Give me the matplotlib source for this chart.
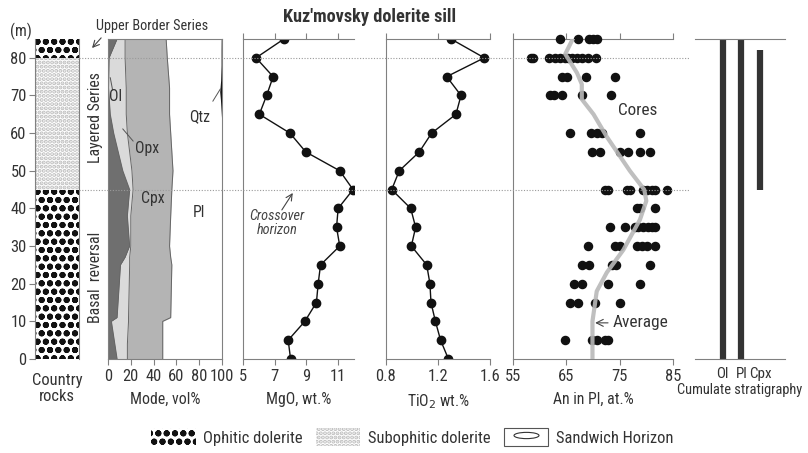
import numpy as np
import matplotlib.pyplot as plt
from matplotlib import font_manager
from matplotlib.patches import Patch
from matplotlib.lines import Line2D
from matplotlib.path import Path
from matplotlib.markers import MarkerStyle
from matplotlib.legend_handler import HandlerTuple
from matplotlib.transforms import blended_transform_factory

# pick a narrow sans if one is around, otherwise plain Liberation Sans
have = {f.name for f in font_manager.fontManager.ttflist}
narrow = [n for n in ('Liberation Sans Narrow', 'Roboto Condensed', 'Open Sans Condensed')
          if n in have]
plt.rcParams['font.family'] = narrow[:1] + ['Liberation Sans', 'DejaVu Sans']
sc = 1.08 if narrow else 1.0

plt.rcParams['font.size'] = 10.5 * sc
plt.rcParams['text.color'] = '#333333'
plt.rcParams['axes.labelcolor'] = '#333333'
plt.rcParams['axes.edgecolor'] = '#808080'
plt.rcParams['xtick.color'] = '#808080'
plt.rcParams['ytick.color'] = '#808080'
plt.rcParams['xtick.labelcolor'] = '#333333'
plt.rcParams['ytick.labelcolor'] = '#333333'
plt.rcParams['xtick.labelsize'] = 11 * sc
plt.rcParams['ytick.labelsize'] = 11 * sc
plt.rcParams['hatch.linewidth'] = 2.0

# ---- data (height in m above the base of the sill) ----
depth = [0, 5, 10, 15, 20, 25, 30, 35, 40, 45, 50, 55, 60, 65, 70, 75, 80, 85]
mgo = [8.0, 7.85, 8.9, 9.63, 9.74, 9.89, 11.1, 10.9, 11.0, 11.94,
       11.1, 8.96, 7.96, 6.03, 6.49, 6.9, 5.82, 7.58]
tio2 = [1.28, 1.22, 1.18, 1.146, 1.138, 1.113, 0.995, 1.028, 0.99, 0.844,
        0.902, 1.056, 1.151, 1.338, 1.377, 1.267, 1.556, 1.30]

an_depth = [5, 15, 20, 25, 30, 35, 40, 45, 55, 60, 70, 75, 80, 85]
an_values = [
    [64.8, 69.8, 70.7, 72.3, 72.9],
    [65.6, 67.1, 70.4, 75.1],
    [66.4, 67.9, 72.9, 78.8],
    [67.9, 69.3, 73.5, 74.4, 80.6],
    [69.1, 74.1, 75.1, 78.2, 79.1, 80.1, 81.6],
    [73.2, 76.0, 77.9, 78.5, 79.4, 80.4, 81.0, 81.6],
    [78.2, 78.8, 81.6],
    [72.3, 72.9, 76.3, 76.9, 79.3, 80.1, 81.0, 81.6, 83.8],
    [69.8, 71.3, 75.1, 76.6, 78.8, 80.6],
    [65.6, 69.6, 70.7, 71.6, 78.8],
    [61.9, 62.6, 64.1, 67.9, 73.3],
    [64.1, 65.1, 68.7, 74.1],
    [58.3, 58.8, 61.8, 62.9, 63.8, 64.8, 65.4, 66.1, 67.0, 68.0, 69.0, 70.6],
    [63.8, 67.1, 69.2, 70.0, 70.7],
]
avg_depth = [0, 10, 18, 23, 29, 37, 42, 45, 50, 59, 65, 69, 73, 76, 81, 85]
avg_an = [69.9, 69.9, 70.7, 72.6, 75.7, 78.8, 80.0, 79.6, 76.9, 72.6,
          70.1, 67.9, 67.9, 67.0, 64.8, 66.2]

# modal composition, cumulative vol% boundaries
mode_depth = [0, 4, 10, 11, 25, 27, 30, 38, 45, 50, 55, 60, 65, 72, 80, 85]
mode_ol = [8, 6, 3, 8, 11, 15, 19, 17, 19, 13, 9, 5, 2, 0.5, 1, 8]
mode_opx = [17, 17, 18, 18, 19, 19, 20, 20, 22, 21, 19, 17, 16, 16, 15, 15]
mode_cpx = [48, 48, 48, 55, 56, 55, 54, 55, 56, 57, 56, 55, 54, 54, 52, 51]
qtz_depth = [62, 66, 69, 71, 74, 78, 82, 85]
qtz_left = [100, 99.2, 98.6, 98.0, 98.8, 99.2, 99.2, 99.3]

layer_base = [0, 45, 80]
layer_top = [45, 80, 85]
layer_rock = ['Ophitic dolerite', 'Subophitic dolerite', 'Ophitic dolerite']
rock_hatch = {'Ophitic dolerite': 'oo', 'Subophitic dolerite': '....'}
rock_color = {'Ophitic dolerite': '#111111', 'Subophitic dolerite': '#bcbcbc'}

phases = ['Ol', 'Pl', 'Cpx']
phase_base = [0, 0, 45]
phase_top = [85, 85, 82]

W, H = 808, 453
fig = plt.figure(figsize=(W / 100, H / 100), dpi=100)

y0 = 1 - 359 / H
hh = 320 / H


def panel(x0, x1):
    return fig.add_axes([x0 / W, y0, (x1 - x0) / W, hh])


# ---- country rocks column ----
ax0 = panel(35, 79)
ax0.set_xlim(0, 1)
ax0.set_ylim(0, 85)
for b, t, r in zip(layer_base, layer_top, layer_rock):
    ax0.axhspan(b, t, facecolor='white', edgecolor=rock_color[r],
                hatch=rock_hatch[r], linewidth=0)
ax0.spines[['top', 'bottom']].set_visible(False)
ax0.set_xticks([])
ax0.set_yticks(range(0, 81, 10))
ax0.tick_params(axis='y', length=4, pad=2)
ax0.text(0.5, -0.045, 'Country\nrocks', transform=ax0.transAxes,
         ha='center', va='top', linespacing=1.05, fontsize=11 * sc)
ax0.text(-0.31, 86.9, '(m)', ha='center', va='center',
         transform=blended_transform_factory(ax0.transAxes, ax0.transData))

# ---- modal composition ----
ax1 = panel(108, 222)
ax1.set_xlim(0, 100)
ax1.set_ylim(0, 85)
ax1.fill_betweenx(mode_depth, 0, mode_ol, color='#6f6f6f', lw=0)
ax1.fill_betweenx(mode_depth, mode_ol, mode_opx, color='#dadada', lw=0)
ax1.fill_betweenx(mode_depth, mode_opx, mode_cpx, color='#b4b4b4', lw=0)
ax1.fill_betweenx(qtz_depth, qtz_left, 100, color='#111111', lw=0)
for bnd in (mode_ol, mode_opx, mode_cpx):
    ax1.plot(bnd, mode_depth, color='#666666', lw=0.7)
ax1.set_xticks(range(0, 101, 20))
ax1.set_yticks([])
ax1.tick_params(axis='x', length=4, pad=3)
ax1.set_xlabel('Mode, vol%', labelpad=6)
ax1.text(7, 69.8, 'Ol', ha='center', va='center')
ax1.plot([2, 4], [74.7, 71.5], color='#555555', lw=0.7)
ax1.text(34, 56, 'Opx', ha='center', va='center')
ax1.plot([13, 22], [61.1, 57.9], color='#555555', lw=0.7)
ax1.text(80.7, 64.3, 'Qtz', ha='center', va='center')
ax1.plot([92, 98.5], [68.5, 71.7], color='#555555', lw=0.7)
ax1.text(39.5, 42.6, 'Cpx', ha='center', va='center')
ax1.text(80, 38.9, 'Pl', ha='center', va='center')
ax1.text(-11.4, 64, 'Layered Series', rotation=90, ha='center', va='center')
ax1.text(-11.4, 21.7, 'Basal  reversal', rotation=90, ha='center', va='center')
ax1.text(38.6, 88.5, 'Upper Border Series', ha='center', va='center',
         fontsize=9.5 * sc, clip_on=False)
ax1.annotate('', xy=(-14, 82.6), xytext=(-6, 85.3), annotation_clip=False,
             arrowprops=dict(arrowstyle='->', color='#444444', lw=0.8,
                             shrinkA=0, shrinkB=0))

# ---- MgO ----
ax2 = panel(243, 354)
ax2.plot(mgo, depth, '-o', color='#111111', ms=6, lw=1)
ax2.set_xlim(5, 12)
ax2.set_xticks([5, 7, 9, 11])
ax2.set_xlabel('MgO, wt.%', labelpad=6)
ax2.annotate('', xy=(8.14, 44.1), xytext=(7.45, 39.6),
             arrowprops=dict(arrowstyle='->', color='#444444', lw=0.8,
                             shrinkA=0, shrinkB=0))
ax2.text(7.14, 36.1, 'Crossover\nhorizon', ha='center', va='center',
         style='italic', fontsize=9.5 * sc, color='#444444', linespacing=1.0)

# ---- TiO2 ----
ax3 = panel(386, 490)
ax3.plot(tio2, depth, '-o', color='#111111', ms=6, lw=1)
ax3.set_xlim(0.8, 1.6)
ax3.set_xticks([0.8, 1.2, 1.6])
ax3.set_xlabel('TiO$_2$ wt.%', labelpad=6)

# ---- An in plagioclase ----
ax4 = panel(513, 673)
for d, vals in zip(an_depth, an_values):
    ax4.scatter(vals, [d] * len(vals), s=34, color='#111111', zorder=3,
                clip_on=False)
ax4.plot(avg_an, avg_depth, color='#b8b8b8', lw=3, alpha=0.9, zorder=4)
ax4.set_xlim(55, 85)
ax4.set_xticks([55, 65, 75, 85])
ax4.set_xlabel('An in Pl, at.%', labelpad=6)
ax4.text(78.3, 65.9, 'Cores', ha='center', va='center', fontsize=11.5 * sc)
ax4.annotate('Average', xy=(70.4, 9.6), xytext=(73.6, 9.6), ha='left',
             va='center', fontsize=11.5 * sc,
             arrowprops=dict(arrowstyle='->', color='#444444', lw=0.8,
                             shrinkA=1, shrinkB=0))

for ax in (ax2, ax3, ax4):
    ax.spines['right'].set_visible(False)
    ax.set_yticks([])
    ax.tick_params(axis='x', top=True, length=4, pad=3)
    ax.set_ylim(0, 85)

# ---- cumulate stratigraphy ----
ax5 = panel(695, 785)
ax5.vlines(range(1, len(phases) + 1), phase_base, phase_top,
           color='#333333', lw=4.5)
ax5.set_xlim(-0.49, 4.34)
ax5.set_ylim(0, 85)
ax5.spines[['left', 'right']].set_visible(False)
ax5.set_yticks([])
ax5.set_xticks(range(1, len(phases) + 1), phases, fontsize=10 * sc)
ax5.get_xticklabels()[2].set_x(3.2)
ax5.tick_params(axis='x', length=0, pad=6)
ax5.set_xlabel('Cumulate stratigraphy', fontsize=9.6 * sc, labelpad=1)

# horizon lines at 45 and 80 m
tr = blended_transform_factory(fig.transFigure, ax0.transData)
for h in (45, 80):
    fig.add_artist(Line2D([79 / W, 690 / W], [h, h], transform=tr,
                          ls=(0, (1, 1.5)), color='#9a9a9a', lw=0.8))

fig.text(370 / W, 1 - 17 / H, "Kuz'movsky dolerite sill", ha='center',
         va='center', fontsize=12.2 * sc, fontweight='bold')

# ---- legend ----
handles = [Patch(facecolor='white', edgecolor=rock_color[r], hatch=rock_hatch[r],
                 linewidth=0)
           for r in ['Ophitic dolerite', 'Subophitic dolerite']]
circ = Path.unit_circle()
ellipse = Path(circ.vertices * [1, 0.25], circ.codes)
sandwich = (Patch(facecolor='white', edgecolor='#555555', linewidth=0.8),
            Line2D([], [], marker=MarkerStyle(ellipse), ms=18, ls='none',
                   mfc='white', mec='#333333', mew=0.8))
handles.append(sandwich)
fig.legend(handles, ['Ophitic dolerite', 'Subophitic dolerite', 'Sandwich Horizon'],
           loc='center', bbox_to_anchor=(0.51, 1 - 437 / H), ncol=3,
           frameon=False, fontsize=11 * sc, handlelength=2.7, handleheight=1.35,
           columnspacing=0.8, handletextpad=0.45,
           handler_map={tuple: HandlerTuple(ndivide=1)})

fig.savefig('out.png', dpi=100)
